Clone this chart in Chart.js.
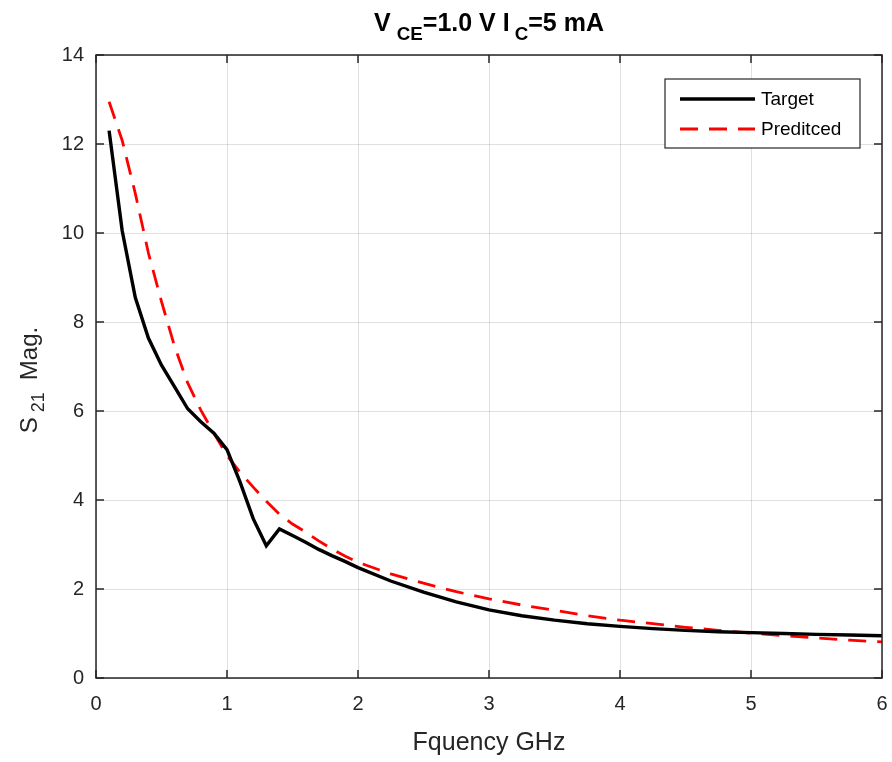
<!DOCTYPE html>
<html>
<head>
<meta charset="utf-8">
<script src="https://cdn.jsdelivr.net/npm/chart.js@4.4.1/dist/chart.umd.min.js"></script>
<style>
  html, body { margin:0; padding:0; background:#fff; }
</style>
</head>
<body>
<canvas id="chartS21" width="892" height="762"></canvas>
<script>
// data
const freqGHz   = [0.1,0.2,0.3,0.4,0.5,0.6,0.7,0.8,0.9,1.0,1.1,1.2,1.3,1.4,1.5,1.6,1.7,1.8,1.9,2.0,
                   2.25,2.5,2.75,3.0,3.25,3.5,3.75,4.0,4.25,4.5,4.75,5.0,5.25,5.5,5.75,6.0];
const targetMag = [12.3,10.05,8.55,7.64,7.03,6.54,6.05,5.76,5.5,5.13,4.4,3.58,2.97,3.35,3.2,3.05,2.89,2.75,2.62,2.48,
                   2.18,1.93,1.71,1.53,1.4,1.3,1.22,1.16,1.11,1.07,1.04,1.02,1.0,0.98,0.965,0.95];
const predMag   = [12.95,12.08,10.89,9.55,8.46,7.45,6.63,6.02,5.5,5.0,4.62,4.29,3.97,3.68,3.46,3.28,3.08,2.9,2.74,2.6,
                   2.34,2.13,1.94,1.78,1.64,1.52,1.4,1.3,1.22,1.14,1.07,1.01,0.95,0.9,0.85,0.81];
const xTicks = [0,1,2,3,4,5,6];
const yTicks = [0,2,4,6,8,10,12,14];

const FONT = '"Liberation Sans", Arial, Helvetica, sans-serif';
const AXIS = '#262626';

// measure a list of normal / subscript runs, returns total width
function measureRuns(ctx, runs, size){
  let total = 0;
  runs.forEach(r=>{
    ctx.font = r.font(r.sub ? size*0.75 : size);
    r.w = ctx.measureText(r.t).width;
    total += r.w + (r.pre || 0);
  });
  return total;
}
function drawRuns(ctx, runs, size, x, y, subDrop){
  runs.forEach(r=>{
    x += (r.pre || 0);
    ctx.font = r.font(r.sub ? size*0.75 : size);
    ctx.fillText(r.t, x, r.sub ? y + subDrop : y);
    x += r.w;
  });
}

const framePlugin = {
  id: 'frame',
  afterDraw(chart){
    const ctx = chart.ctx;
    const a = chart.chartArea;
    const xs = chart.scales.x, ys = chart.scales.y;
    ctx.save();
    ctx.strokeStyle = AXIS;
    ctx.lineWidth = 1.5;
    ctx.strokeRect(a.left, a.top, a.right - a.left, a.bottom - a.top);
    ctx.beginPath();
    xTicks.forEach(v=>{
      const px = xs.getPixelForValue(v);
      ctx.moveTo(px, a.bottom); ctx.lineTo(px, a.bottom - 8);
      ctx.moveTo(px, a.top); ctx.lineTo(px, a.top + 8);
    });
    yTicks.forEach(v=>{
      const py = ys.getPixelForValue(v);
      ctx.moveTo(a.left, py); ctx.lineTo(a.left + 8, py);
      ctx.moveTo(a.right, py); ctx.lineTo(a.right - 8, py);
    });
    ctx.stroke();

    // legend box (top right, inside the axes)
    const bx = 665, by = 79, bw = 195, bh = 69;
    ctx.fillStyle = '#fff';
    ctx.fillRect(bx, by, bw, bh);
    ctx.strokeStyle = AXIS;
    ctx.lineWidth = 1.2;
    ctx.strokeRect(bx, by, bw, bh);
    chart.data.datasets.forEach((ds, i)=>{
      const y = by + 20 + i * 30;
      ctx.beginPath();
      ctx.strokeStyle = ds.borderColor;
      ctx.lineWidth = ds.borderWidth;
      ctx.setLineDash(ds.borderDash || []);
      ctx.moveTo(bx + 15, y); ctx.lineTo(bx + 90, y);
      ctx.stroke();
      ctx.setLineDash([]);
      ctx.fillStyle = '#000';
      ctx.font = '19px ' + FONT;
      ctx.textBaseline = 'middle';
      ctx.textAlign = 'left';
      ctx.fillText(ds.label, bx + 96, y + 1);
    });

    // title with subscripts
    const bold = s => 'bold ' + s + 'px ' + FONT;
    const runs = [
      {t:'V', font:bold},
      {t:'CE', sub:true, font:bold, pre:6},
      {t:'=1.0 V I', font:bold},
      {t:'C', sub:true, font:bold, pre:5},
      {t:'=5 mA', font:bold}
    ];
    const size = 25;
    const total = measureRuns(ctx, runs, size);
    ctx.fillStyle = '#000';
    ctx.textBaseline = 'alphabetic';
    ctx.textAlign = 'left';
    drawRuns(ctx, runs, size, (a.left + a.right) / 2 - total / 2, 31, 9);

    // y axis title: S_21 Mag.
    const norm = s => s + 'px ' + FONT;
    const yruns = [
      {t:'S', font:norm},
      {t:'21', sub:true, font:norm, pre:5},
      {t:'Mag.', font:norm, pre:12}
    ];
    const ysz = 24;
    const ytot = measureRuns(ctx, yruns, ysz);
    ctx.translate(37, 380);
    ctx.rotate(-Math.PI / 2);
    ctx.fillStyle = AXIS;
    drawRuns(ctx, yruns, ysz, -ytot / 2, 0, 7);
    ctx.restore();
  }
};

new Chart(document.getElementById('chartS21'), {
  type: 'line',
  data: {
    datasets: [
      {
        label: 'Target',
        data: freqGHz.map((f,i)=>({x:f, y:targetMag[i]})),
        borderColor: '#000000',
        borderWidth: 3.4,
        pointRadius: 0,
        tension: 0
      },
      {
        label: 'Preditced',
        data: freqGHz.map((f,i)=>({x:f, y:predMag[i]})),
        borderColor: '#ff0000',
        borderWidth: 2.8,
        borderDash: [18, 11],
        pointRadius: 0,
        tension: 0
      }
    ]
  },
  options: {
    responsive: false,
    animation: false,
    devicePixelRatio: 1,
    layout: { padding: { top: 55, right: 10, left: 0, bottom: 0 } },
    plugins: {
      legend: { display: false },
      title: { display: false },
      tooltip: { enabled: false }
    },
    scales: {
      x: {
        type: 'linear',
        min: 0, max: 6,
        afterBuildTicks: s => { s.ticks = xTicks.map(v=>({value:v})); },
        afterFit: s => { s.height = 84; s.paddingLeft = 0; s.paddingRight = 0; },
        grid: { color: 'rgba(0,0,0,0.12)', drawTicks: false },
        border: { display: false },
        ticks: { color: AXIS, font: { family: FONT, size: 20 }, padding: 14, maxRotation: 0 },
        title: { display: true, text: 'Fquency GHz', color: AXIS, font: { family: FONT, size: 25 }, padding: { top: 6, bottom: 4 } }
      },
      y: {
        type: 'linear',
        min: 0, max: 14,
        afterBuildTicks: s => { s.ticks = yTicks.map(v=>({value:v})); },
        afterFit: s => { s.width = 96; s.paddingTop = 0; s.paddingBottom = 0; },
        grid: { color: 'rgba(0,0,0,0.12)', drawTicks: false },
        border: { display: false },
        ticks: { color: AXIS, font: { family: FONT, size: 20 }, padding: 12 }
      }
    }
  },
  plugins: [framePlugin]
});
</script>
</body>
</html>
